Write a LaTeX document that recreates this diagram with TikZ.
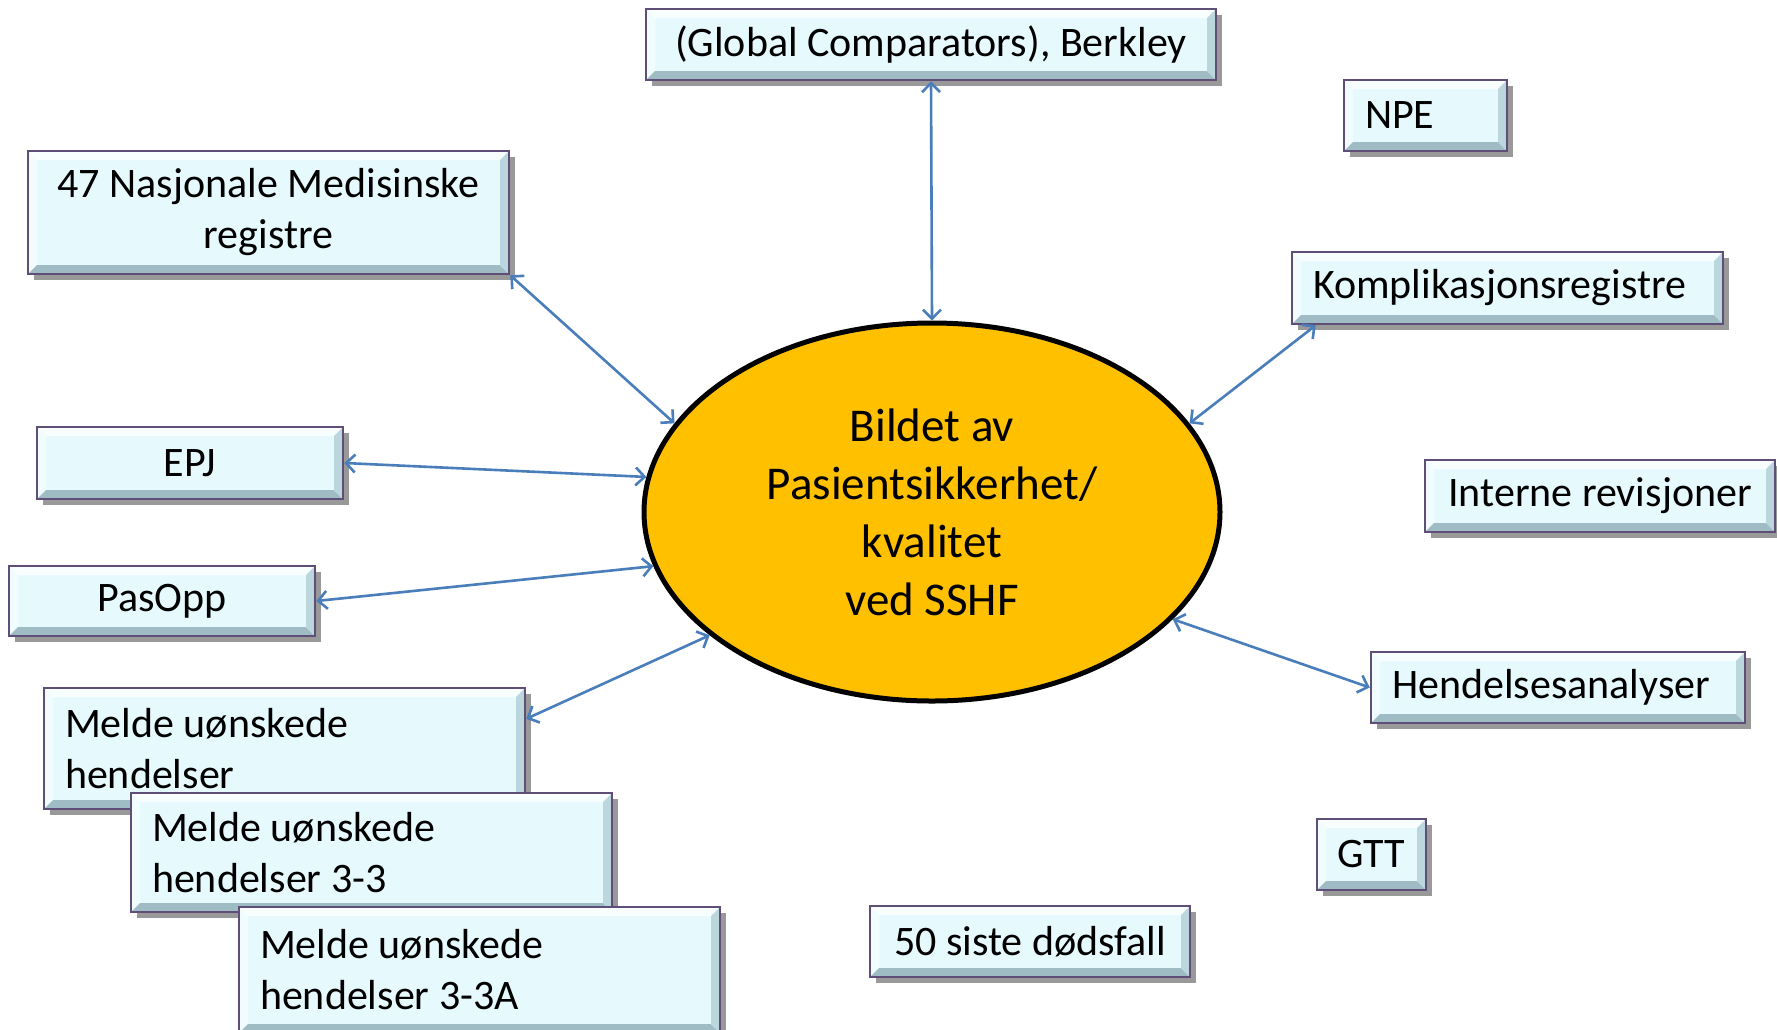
\documentclass[tikz,border=0pt]{standalone}
\usepackage{fontspec}
\setmainfont{Carlito}
\usetikzlibrary{shapes.geometric,shadows,arrows.meta}
\definecolor{boxfill}{HTML}{E6FAFE}
\definecolor{boxdraw}{HTML}{5E4E78}
\definecolor{arrblue}{HTML}{4A7EBB}
\definecolor{ellfill}{HTML}{FFC000}
\definecolor{bevdark}{HTML}{9FBCC5}
\definecolor{bevmid}{HTML}{BCD6DD}
\tikzset{
  bevel/.style={path picture={
    \fill[white,opacity=.75] (path picture bounding box.north west) -- (path picture bounding box.north east)
      -- ([shift={(-9pt,-9pt)}]path picture bounding box.north east) -- ([shift={(9pt,-9pt)}]path picture bounding box.north west) -- cycle;
    \fill[white,opacity=.45] (path picture bounding box.north west) -- (path picture bounding box.south west)
      -- ([shift={(9pt,9pt)}]path picture bounding box.south west) -- ([shift={(9pt,-9pt)}]path picture bounding box.north west) -- cycle;
    \fill[bevdark] (path picture bounding box.south west) -- (path picture bounding box.south east)
      -- ([shift={(-9pt,9pt)}]path picture bounding box.south east) -- ([shift={(9pt,9pt)}]path picture bounding box.south west) -- cycle;
    \fill[bevmid] (path picture bounding box.north east) -- (path picture bounding box.south east)
      -- ([shift={(-9pt,9pt)}]path picture bounding box.south east) -- ([shift={(-9pt,-9pt)}]path picture bounding box.north east) -- cycle;
  }},
  bx/.style={rectangle, draw=boxdraw, line width=2.5pt, fill=boxfill, inner sep=0pt,
    font=\fontsize{42}{51}\selectfont, align=center,
    drop shadow={shadow xshift=6pt, shadow yshift=-6pt, opacity=.4, fill=black}, bevel},
  lb/.style={align=flush left, inner xsep=21pt},
  arr/.style={draw=arrblue, line width=2.6pt, {Straight Barb[length=9pt,width=18pt]}-{Straight Barb[length=9pt,width=18pt]}}
}
\begin{document}
\begin{tikzpicture}[x=1pt,y=-1pt]
\useasboundingbox[fill=white] (0,0) rectangle (1777,1029);

\node[bx, minimum width=570pt, minimum height=71pt] (glob) at (931,44.5) {(Global Comparators), Berkley};
\node[bx, lb, text width=121pt, minimum height=71pt] (npe) at (1425.5,115.5) {NPE};
\node[bx, minimum width=481pt, minimum height=123pt] (nas) at (268.5,212.5) {47 Nasjonale Medisinske\\registre};
\node[bx, lb, text width=389pt, minimum height=72pt] (kompl) at (1507.5,288) {Komplikasjonsregistre};
\node[bx, minimum width=306pt, minimum height=72pt] (epj) at (190,463) {EPJ};
\node[bx, minimum width=350pt, minimum height=72pt] (int) at (1600,496) {Interne revisjoner};
\node[bx, minimum width=306pt, minimum height=70pt] (pas) at (162,601) {PasOpp};
\node[bx, lb, text width=332pt, minimum height=71pt] (hend) at (1558,687.5) {Hendelsesanalyser};
\node[bx, minimum width=109pt, minimum height=71pt] (gtt) at (1371.5,854.5) {GTT};
\node[bx, minimum width=320pt, minimum height=71pt] (fifty) at (1030,941.5) {50 siste dødsfall};
\node[bx, lb, text width=439pt, minimum height=121pt] (m1) at (284.5,748.5) {Melde uønskede\\hendelser};
\node[bx, lb, text width=439pt, minimum height=119pt] (m2) at (371.5,852.5) {Melde uønskede\\hendelser 3-3};
\node[bx, lb, text width=439pt, minimum height=126pt] (m3) at (479.5,970) {Melde uønskede\\hendelser 3-3A};

\node[ellipse, draw=black, line width=5pt, fill=ellfill, minimum width=576pt, minimum height=378pt,
  inner sep=0pt, align=center, font=\fontsize{47}{58}\selectfont] (ell) at (932,512)
  {Bildet av\\Pasientsikkerhet/\\kvalitet\\ved SSHF};

\draw[arr] (glob.south) -- (ell.north);
\draw[arr] (nas.south east) -- (ell.161);
\draw[arr] (epj.east) -- (ell.173);
\draw[arr] (pas.east) -- (ell.191);
\draw[arr] (m1.7) -- (ell.209);
\draw[arr] ([xshift=25pt]kompl.south west) -- (ell.19);
\draw[arr] (hend.west) -- (ell.336);
\end{tikzpicture}
\end{document}
